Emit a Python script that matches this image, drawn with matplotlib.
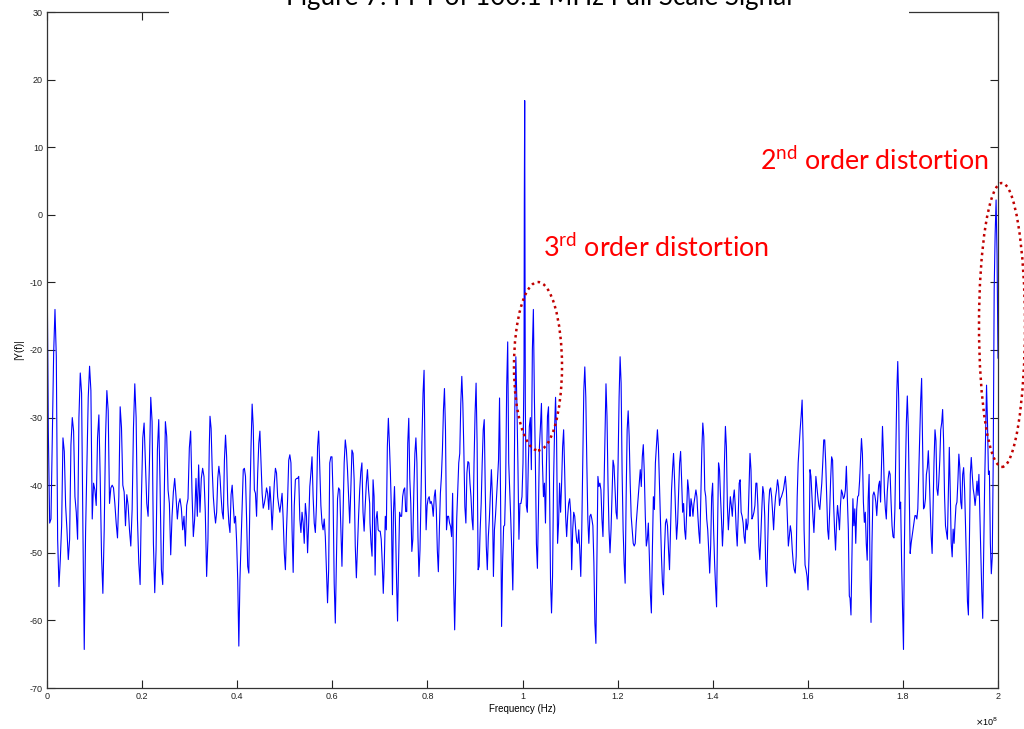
import numpy as np
import matplotlib
matplotlib.use('Agg')
import matplotlib.pyplot as plt
from matplotlib.patches import Ellipse, Rectangle
from matplotlib.ticker import FuncFormatter

# ==========================================
# DATA (magnitude in dB)
# ==========================================
# frequency span of each segment, in units of 1e8 Hz
seg_span = [(0.0, 0.3413), (0.3428, 0.6786), (0.6793, 1.0032),
            (1.0038, 1.0046), (1.0059, 1.3516), (1.3523, 1.6873),
            (1.6888, 2.0)]

mag_a = [-5.5, -32, -45.6, -45, -33, -20.5, -14, -21, -48, -55, -51, -46, -33, -35, -43,
         -46.6, -51, -48, -34, -30, -32, -41.7, -44, -48, -30, -23.4, -26.4, -46.6, -64.3,
         -47, -36.7, -27, -22.4, -26, -45, -39.7, -40.7, -43, -33, -29.6, -39, -50.5, -56,
         -46.6, -33, -26, -29, -42.7, -40.4, -40, -40.4, -42.7, -45.6, -47.8, -41.7, -28.4,
         -31.5, -40, -41, -46, -41.4, -43, -46.6, -49, -43.6, -31.5, -25, -30, -45, -51.5,
         -54.7, -41.7, -33, -30.8, -36.7, -42.7, -44.6, -36.7, -27, -30.6, -48.6, -55.9,
         -49.5, -34.8, -30.3, -40, -52.5, -54.7, -43.6, -30.6, -32.8, -40.7, -42.7, -50.3,
         -44.6, -41, -39, -41.7, -45, -42.7, -42, -43.4, -46.6, -44.6, -49, -43, -42, -34.5,
         -32, -41, -47.6, -45, -39, -44.6, -37, -44, -39, -37.5, -38.7, -44, -53.5, -48, -34.3]

mag_b = [-29.8, -31.6, -37.7, -41.7, -44, -45.6, -44, -39, -37.2, -38.7, -41.7, -44, -45,
         -36.3, -32.6, -35.8, -42.7, -45.6, -47, -41.4, -40, -43, -45.6, -44.6, -48.3, -54,
         -63.8, -54, -48.6, -43.6, -37.7, -37.5, -38.7, -45, -52, -53, -42, -34.3, -28, -31.3,
         -40.7, -41.2, -44.6, -38.2, -33.8, -32, -36.7, -41.2, -43.4, -42.7, -41.7, -40.4,
         -41.2, -43.6, -40.2, -42.7, -46.6, -43, -39.7, -37.5, -38.2, -41.7, -43, -44, -42.7,
         -41.2, -45, -50, -52.5, -46.6, -42, -36.3, -35.5, -36.7, -46.6, -52.9, -43, -39.2,
         -39, -39, -38.7, -45, -47, -44, -45.6, -48.6, -42.7, -44.6, -50, -45.6, -40.2, -38.2,
         -35.8, -41.7, -45.6, -47, -43, -34.3, -32, -37.7, -43, -45.6, -46.6, -45, -47.6,
         -52.5, -57.4, -52.5, -36.7, -35.8, -35.8, -41.7, -54.5, -60.4, -51.5, -42, -40.4,
         -40.7, -46.6, -52, -44, -36.7, -33.3, -34.8, -37.7, -41.7, -45.6, -40.7, -34.8,
         -35.3, -39.2, -49, -53.7, -49, -44.6, -40.7, -38, -36.7, -44, -46.8, -43, -39.7,
         -37.7, -40.7, -42.7]

mag_c = [-45.6, -48.6, -50.5, -39.2, -41.7, -53.3, -45, -43.9, -46.6, -46.8, -46.8, -48,
         -51.5, -56, -51.5, -44.6, -46.6, -34.3, -30.1, -33.8, -38.2, -44, -56.2, -44, -40.2,
         -46.1, -54, -60.1, -51.5, -44, -44.6, -44.6, -41.7, -40.7, -40.4, -43.9, -43.9,
         -33.8, -30.1, -39, -42.7, -49.8, -48, -40.7, -35.3, -33, -36.7, -47.6, -53.5, -49.6,
         -41.7, -32.8, -26.4, -23, -36.7, -46.6, -43, -42, -41.7, -42.7, -42.4, -43, -44.6,
         -41.7, -40.7, -43.6, -49.6, -52.8, -46.6, -41.2, -38.7, -34.8, -28.9, -25.7, -31.8,
         -46.6, -44.6, -44.6, -45.6, -46.1, -47.6, -41.2, -54.5, -61.4, -54, -45, -40.7,
         -36.7, -35.3, -27.9, -23.9, -27.9, -34.8, -43.2, -45.6, -38.2, -36.5, -36.7, -39.7,
         -41.7, -45, -46.6, -36.7, -29.4, -24.9, -33.8, -52.5, -52, -46.6, -42.7, -36.7,
         -31.8, -30.3, -40.7, -49, -52.5, -47.6, -45, -41.2, -37.7, -41.7, -53.5, -46.6,
         -44.6, -42, -39.2, -36.3, -27.1, -41.7, -60.9, -51.5, -46.1, -45.9, -39.7, -25.4,
         -18.8, -36.7, -40.7, -45, -49.8, -55.5, -46.6, -28.4, -21, -27.9, -36.7, -48, -42.7,
         -42.7, -41.7, -36.7, -22]

mag_peak = [1.7, 16.9]

mag_e = [-28, -43, -44, -36.7, -31.3, -30, -37.7, -20, -14, -27, -36.7, -48.6, -52.3, -44,
         -34.3, -31.3, -27.9, -36.7, -41.7, -39.7, -45.6, -36.7, -29.8, -28.4, -39.7, -54,
         -58.9, -53.5, -39.7, -31.8, -27, -32.8, -48.6, -45.6, -39.7, -44, -39.7, -34.3,
         -31.8, -37.7, -44.6, -47.6, -44.6, -42.7, -42, -44, -52.5, -46.6, -44, -44.6, -46.6,
         -48.3, -48.6, -46.6, -49.6, -53.5, -46.6, -36.7, -26, -22.5, -27, -36.7, -45, -48.6,
         -44.6, -44.3, -45, -46, -51.5, -60.4, -63.4, -51.5, -38.7, -40.2, -39.7, -40.7, -45,
         -47.6, -40.7, -32.8, -25, -29.8, -39.7, -46.6, -50, -46.6, -41.7, -36.3, -37.2,
         -40.7, -44, -45, -36.7, -27, -21, -24.9, -38.2, -46.6, -51.5, -54.5, -41.7, -31.8,
         -29, -32.8, -39.7, -44.6, -46.6, -48.6, -49, -48.6, -45.6, -43.6, -41.7, -39.7,
         -37.7, -40.2, -35.8, -34, -38.2, -44.6, -49, -48, -45.6, -50.5, -56, -58.9, -49.6,
         -41.7, -43.6, -36.7, -34.3, -31.8, -34.3, -39.7, -45, -50.5, -54.5, -56.2, -49.6,
         -45.6, -45, -46, -49.6, -52.5, -46.6, -40.7, -37.7, -35.3, -39.2, -44, -48, -45.6,
         -41.2, -36.7, -35, -39.2, -44, -42.7, -46.6, -48, -44, -39.2, -40.7, -44]

mag_f = [-44.6, -42, -43, -44.6, -42.7, -41.7, -40.7, -41.7, -44.6, -47, -48.6, -41.7, -34.8,
         -30.8, -32.8, -40.7, -41.7, -45, -46.6, -49.6, -53, -49, -41.7, -39.7, -46.6, -51.5,
         -55, -58, -46.6, -36.7, -37.7, -41.7, -45, -49, -45.6, -36.7, -31.3, -34.3, -43,
         -46.6, -44, -41.7, -43, -44.6, -42, -40.7, -43, -46.6, -49, -44.6, -39.7, -39.2, -44,
         -44.6, -45.6, -47.6, -48.6, -45, -46.6, -45.6, -40.7, -35.3, -37.7, -45, -44.6, -44,
         -43, -39.7, -39.7, -43, -49, -51, -47.6, -43.6, -40.2, -41.2, -44.6, -52.5, -55,
         -48.6, -43, -40.7, -40.4, -41.7, -44, -46.6, -43.6, -41.7, -40.7, -39.2, -40.2, -43,
         -42, -41.7, -41.2, -40.7, -39.7, -38.7, -40.7, -45, -49, -47.6, -46, -47, -49.6,
         -51.5, -52.5, -53, -50.5, -41.7, -36.7, -34.3, -31.8, -29.8, -27.4, -33.8, -46.6,
         -51.8, -52.5, -53.5, -55.5, -50.5, -37.7, -38.7, -41.7, -44.6, -47, -43.6, -38.7,
         -40.2, -41.7, -43, -43.6, -41.7, -39.7, -36.7, -33.3, -33.3, -36.7, -41.7, -46.6,
         -48, -44, -39.2, -35.8, -36.3, -42.7, -46.6, -49.6, -45.6, -43, -44.6, -46.6, -43,
         -40.7, -41.2, -42, -41.7, -40.7, -37.2, -41.7, -46.6, -56.4]

mag_g = [-56.7, -59.2, -51, -42, -46, -43.5, -48.6, -43.5, -41.7, -41.5, -39.4, -36.4, -33.1,
         -35.4, -42.5, -45.5, -44, -48.6, -51.1, -42, -38.4, -53.7, -60.3, -48.6, -41.5, -41,
         -41.5, -42.5, -44.5, -42, -40, -39.4, -42.5, -36.9, -31.3, -35.4, -41, -43.5, -45,
         -41, -39, -37.9, -38.4, -42.5, -46, -47.6, -47.8, -43.5, -34.4, -26.2, -21.7, -27.3,
         -43.5, -42.5, -51.1, -58.2, -64.3, -48.6, -38.4, -30.8, -26.8, -31.3, -41, -50.1,
         -48.6, -47.6, -46.5, -45.5, -44.5, -44.5, -45, -43.5, -38.4, -32.8, -27.5, -24.2,
         -33.4, -43.5, -43.2, -42, -38.4, -37.4, -34.9, -38.4, -43.5, -47.6, -50.1, -43.5,
         -36.4, -31.8, -33.4, -40.5, -41.5, -39.4, -36.4, -31.8, -30.8, -28.8, -33.4, -41.5,
         -46, -47, -48, -41.5, -34.4, -41, -48.6, -50.6, -46.5, -48.6, -45.5, -43, -42.5,
         -39.4, -35.4, -37.4, -42.5, -43.5, -38.4, -37.4, -40.5, -46, -51.1, -57.2, -59.2,
         -48.6, -38.4, -35.9, -38.4, -40.5, -41.5, -43, -41.5, -39.4, -41.5, -38.4, -44.5,
         -50.1, -55.7, -59.7, -49.6, -40, -32.3, -25.2, -30.8, -38.4, -37.9, -48.6, -53.1,
         -50.6, -36.4, -11, -2.9, 2.2, -5.9, -21.2]

segments = [mag_a, mag_b, mag_c, mag_peak, mag_e, mag_f, mag_g]

freq = np.concatenate([np.linspace(a, b, len(m)) for (a, b), m in zip(seg_span, segments)]) * 1e8
mag = np.concatenate([np.array(m, dtype=float) for m in segments])

# ==========================================
# PLOT
# ==========================================
plt.rcParams['font.family'] = ['Liberation Sans', 'DejaVu Sans']
plt.rcParams['axes.unicode_minus'] = False
W, H = 1024, 729
fig = plt.figure(figsize=(W / 100, H / 100), dpi=100)
ax = fig.add_axes([47 / W, 1 - 688 / H, (998 - 47) / W, (688 - 12) / H])

ax.plot(freq, mag, color='#0000ff', linewidth=0.8)

ax.set_xlim(0, 2e8)
ax.set_ylim(-70, 30)
ax.set_xticks(np.arange(0, 2.01e8, 0.2e8))
ax.set_yticks(np.arange(-70, 31, 10))
ax.xaxis.set_major_formatter(FuncFormatter(lambda v, p: f'{v / 1e8:g}'))
ax.tick_params(direction='in', length=6, width=0.8, labelsize=6.5,
               top=True, right=True, pad=3, colors='#222222')
for s in ax.spines.values():
    s.set_linewidth(0.9)
    s.set_color('#333333')

ax.set_xlabel('Frequency (Hz)', fontsize=7, labelpad=2)
ax.set_ylabel('|Y(f)|', fontsize=7, labelpad=4)
fig.text(998 / W, 1 - 726 / H, r'$\times$10$^{8}$', fontsize=6.5, ha='right', va='baseline')

# annotations (red text + dotted ellipses)
ann_font = ['Lato', 'DejaVu Sans']
fig.text(543 / W, 1 - 257 / H, r'3$^{\mathregular{rd}}$ order distortion', color='#ff0000',
         fontsize=19.4, family=ann_font, ha='left', va='baseline')
fig.text(760 / W, 1 - 170 / H, r'2$^{\mathregular{nd}}$ order distortion', color='#ff0000',
         fontsize=19.3, family=ann_font, ha='left', va='baseline')

ax.add_patch(Ellipse((1.0326e8, -22.4), 0.101e8, 24.9, fill=False, edgecolor='#c00000',
                     linestyle=(0, (1, 1.5)), linewidth=1.8, clip_on=False, zorder=5))
ax.add_patch(Ellipse((2.0084e8, -16.3), 0.0967e8, 42.0, fill=False, edgecolor='#c00000',
                     linestyle=(0, (1, 1.5)), linewidth=1.8, clip_on=False, zorder=5))

# title sits on a white box that hides the top of the frame
fig.add_artist(Rectangle((169 / W, 1 - 23 / H), (909 - 169) / W, 23 / H,
                         transform=fig.transFigure, facecolor='white', edgecolor='none', zorder=5))
fig.text(539 / W, 1 - 5 / H, 'Figure 7: FFT of 100.1 MHz Full Scale Signal', fontsize=18.7,
         family=ann_font, ha='center', va='baseline', zorder=6)

fig.savefig('out.png', dpi=100)
